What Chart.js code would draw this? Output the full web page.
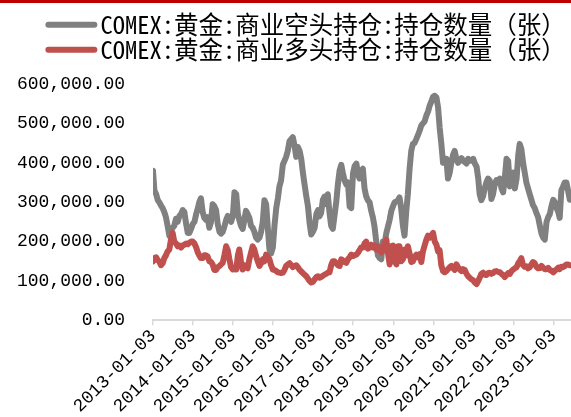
<!DOCTYPE html>
<html><head><meta charset="utf-8">
<script src="https://cdn.jsdelivr.net/npm/chart.js@4/dist/chart.umd.min.js"></script>
<style>
html,body{margin:0;padding:0;background:#fff;}
#wrap{position:relative;width:571px;height:417px;overflow:hidden;}
#topbar{position:absolute;left:0;top:0;width:571px;height:3px;background:#c00000;}
canvas{display:block;}
</style></head><body>
<div id="wrap"><canvas id="c" width="571" height="417"></canvas><div id="topbar"></div></div>
<script>
// semi-monthly observation dates
const dates = [
"2013-01-03","2013-01-16","2013-02-01","2013-02-16","2013-03-01","2013-03-16","2013-04-01","2013-04-16","2013-05-01","2013-05-16","2013-06-01","2013-06-16","2013-07-01","2013-07-16","2013-08-01","2013-08-16","2013-09-01","2013-09-16","2013-10-01","2013-10-16","2013-11-01","2013-11-16","2013-12-01","2013-12-16",
"2014-01-01","2014-01-16","2014-02-01","2014-02-16","2014-03-01","2014-03-16","2014-04-01","2014-04-16","2014-05-01","2014-05-16","2014-06-01","2014-06-16","2014-07-01","2014-07-16","2014-08-01","2014-08-16","2014-09-01","2014-09-16","2014-10-01","2014-10-16","2014-11-01","2014-11-16","2014-12-01","2014-12-16",
"2015-01-01","2015-01-16","2015-02-01","2015-02-16","2015-03-01","2015-03-16","2015-04-01","2015-04-16","2015-05-01","2015-05-16","2015-06-01","2015-06-16","2015-07-01","2015-07-16","2015-08-01","2015-08-16","2015-09-01","2015-09-16","2015-10-01","2015-10-16","2015-11-01","2015-11-16","2015-12-01","2015-12-16",
"2016-01-01","2016-01-16","2016-02-01","2016-02-16","2016-03-01","2016-03-16","2016-04-01","2016-04-16","2016-05-01","2016-05-16","2016-06-01","2016-06-16","2016-07-01","2016-07-16","2016-08-01","2016-08-16","2016-09-01","2016-09-16","2016-10-01","2016-10-16","2016-11-01","2016-11-16","2016-12-01","2016-12-16",
"2017-01-01","2017-01-16","2017-02-01","2017-02-16","2017-03-01","2017-03-16","2017-04-01","2017-04-16","2017-05-01","2017-05-16","2017-06-01","2017-06-16","2017-07-01","2017-07-16","2017-08-01","2017-08-16","2017-09-01","2017-09-16","2017-10-01","2017-10-16","2017-11-01","2017-11-16","2017-12-01","2017-12-16",
"2018-01-01","2018-01-16","2018-02-01","2018-02-16","2018-03-01","2018-03-16","2018-04-01","2018-04-16","2018-05-01","2018-05-16","2018-06-01","2018-06-16","2018-07-01","2018-07-16","2018-08-01","2018-08-16","2018-09-01","2018-09-16","2018-10-01","2018-10-16","2018-11-01","2018-11-16","2018-12-01","2018-12-16",
"2019-01-01","2019-01-16","2019-02-01","2019-02-16","2019-03-01","2019-03-16","2019-04-01","2019-04-16","2019-05-01","2019-05-16","2019-06-01","2019-06-16","2019-07-01","2019-07-16","2019-08-01","2019-08-16","2019-09-01","2019-09-16","2019-10-01","2019-10-16","2019-11-01","2019-11-16","2019-12-01","2019-12-16",
"2020-01-01","2020-01-16","2020-02-01","2020-02-16","2020-03-01","2020-03-16","2020-04-01","2020-04-16","2020-05-01","2020-05-16","2020-06-01","2020-06-16","2020-07-01","2020-07-16","2020-08-01","2020-08-16","2020-09-01","2020-09-16","2020-10-01","2020-10-16","2020-11-01","2020-11-16","2020-12-01","2020-12-16",
"2021-01-01","2021-01-16","2021-02-01","2021-02-16","2021-03-01","2021-03-16","2021-04-01","2021-04-16","2021-05-01","2021-05-16","2021-06-01","2021-06-16","2021-07-01","2021-07-16","2021-08-01","2021-08-16","2021-09-01","2021-09-16","2021-10-01","2021-10-16","2021-11-01","2021-11-16","2021-12-01","2021-12-16",
"2022-01-01","2022-01-16","2022-02-01","2022-02-16","2022-03-01","2022-03-16","2022-04-01","2022-04-16","2022-05-01","2022-05-16","2022-06-01","2022-06-16","2022-07-01","2022-07-16","2022-08-01","2022-08-16","2022-09-01","2022-09-16","2022-10-01","2022-10-16","2022-11-01","2022-11-16","2022-12-01","2022-12-16",
"2023-01-01","2023-01-16","2023-02-01","2023-02-16","2023-03-01","2023-03-16","2023-04-01","2023-04-16","2023-05-01","2023-05-16","2023-06-01"
];
// COMEX:黄金:商业空头持仓:持仓数量（张） (gray)
const shortPos = [
380000,330000,320000,305000,300000,292000,285000,275000,262000,240000,215000,228000,235000,240000,258000,250000,265000,270000,280000,275000,245000,222000,222000,232000,
245000,250000,270000,285000,300000,310000,275000,260000,255000,262000,235000,250000,295000,290000,280000,245000,225000,220000,225000,238000,255000,265000,262000,250000,
264000,325000,320000,270000,255000,240000,232000,255000,278000,270000,260000,240000,235000,225000,210000,205000,210000,225000,250000,305000,295000,235000,180000,170000,
185000,240000,285000,310000,340000,355000,395000,405000,415000,430000,455000,460000,465000,445000,415000,440000,430000,410000,375000,345000,315000,290000,247000,218000,
225000,235000,270000,280000,264000,272000,306000,314000,295000,320000,272000,240000,232000,265000,300000,345000,381000,395000,373000,355000,345000,350000,289000,285000,
373000,392000,398000,370000,360000,380000,385000,335000,315000,305000,300000,278000,262000,238000,200000,165000,158000,155000,200000,195000,222000,238000,255000,278000,
290000,300000,302000,305000,312000,285000,240000,215000,275000,320000,385000,430000,448000,450000,460000,470000,482000,495000,500000,505000,520000,530000,545000,555000,
568000,570000,566000,540000,490000,450000,400000,410000,410000,360000,375000,400000,420000,430000,410000,400000,405000,412000,406000,402000,398000,410000,405000,405000,
410000,398000,390000,360000,320000,305000,315000,335000,350000,360000,355000,308000,320000,345000,356000,350000,360000,335000,325000,360000,410000,405000,340000,370000,
375000,335000,360000,420000,448000,435000,400000,375000,350000,335000,320000,306000,292000,285000,272000,262000,240000,220000,210000,205000,250000,262000,270000,290000,
306000,300000,285000,275000,260000,330000,340000,350000,350000,330000,306000
];
// COMEX:黄金:商业多头持仓:持仓数量（张） (red)
const longPos = [
150000,158000,160000,152000,150000,140000,145000,158000,165000,175000,180000,205000,222000,200000,195000,188000,190000,185000,190000,192000,195000,193000,197000,200000,
200000,195000,185000,172000,165000,158000,158000,165000,165000,162000,150000,148000,142000,128000,128000,135000,138000,142000,146000,165000,188000,178000,155000,135000,
129000,130000,129000,165000,180000,150000,129000,140000,134000,132000,155000,172000,188000,180000,163000,150000,138000,145000,155000,150000,167000,160000,155000,140000,
129000,128000,125000,122000,121000,120000,121000,128000,138000,142000,145000,140000,135000,138000,140000,135000,128000,124000,120000,116000,112000,106000,100000,96000,
98000,104000,110000,112000,108000,110000,113000,116000,118000,121000,122000,140000,150000,150000,145000,140000,138000,155000,152000,148000,146000,155000,160000,167000,
163000,165000,167000,172000,178000,185000,185000,195000,200000,182000,185000,192000,185000,190000,180000,188000,180000,172000,180000,195000,205000,170000,142000,188000,
190000,150000,142000,188000,188000,150000,155000,180000,165000,188000,170000,148000,150000,160000,167000,160000,168000,148000,175000,190000,205000,215000,210000,215000,
222000,200000,192000,175000,178000,140000,125000,122000,125000,130000,135000,138000,133000,128000,142000,135000,129000,125000,130000,128000,118000,112000,108000,104000,
102000,96000,92000,100000,108000,118000,121000,116000,115000,120000,121000,118000,120000,124000,125000,123000,122000,118000,115000,110000,115000,120000,118000,125000,
129000,132000,135000,145000,150000,158000,140000,136000,137000,132000,135000,142000,148000,145000,136000,132000,133000,138000,134000,130000,130000,133000,128000,126000,
122000,126000,130000,134000,130000,136000,135000,138000,142000,142000,140000
];
const seriesNames = ["COMEX:黄金:商业空头持仓:持仓数量（张）","COMEX:黄金:商业多头持仓:持仓数量（张）"];
const tickLabels = ["2013-01-03","2014-01-03","2015-01-03","2016-01-03","2017-01-03","2018-01-03","2019-01-03","2020-01-03","2021-01-03","2022-01-03","2023-01-03"];
const yTicks = [0,100000,200000,300000,400000,500000,600000];
const xEnd = "2023-06-12";

const day = s => Date.UTC(+s.slice(0,4), +s.slice(5,7)-1, +s.slice(8,10)) / 864e5;
const fmt = v => v.toLocaleString('en-US',{minimumFractionDigits:2, maximumFractionDigits:2});
const mono = '"Liberation Mono", monospace';
const legFont = '"Noto Sans Mono CJK SC","Liberation Mono","Noto Sans CJK SC",monospace';
const LEG_SIZE = 24.5, SWATCH = 52;

const GRAY = '#808080', RED = '#c0504d';

const legendTweak = {
  id: 'legendTweak',
  beforeLayout(chart) {
    const lg = chart.legend;
    if (lg && !lg._gapPatched) {
      const f = lg.fit;
      lg.fit = function() { f.call(this); this.height += 12; };
      lg._gapPatched = true;
    }
  },
  afterLayout(chart) {
    const lg = chart.legend;
    if (lg) { lg.left += 7; lg.right += 7; }
  },
  afterDraw(chart) {
    const lg = chart.legend;
    if (!lg || !lg.legendHitBoxes) return;
    const ctx = chart.ctx;
    lg.legendHitBoxes.forEach((hb, i) => {
      const item = lg.legendItems[i];
      const textX = hb.left + SWATCH + LEG_SIZE / 2;
      const y = hb.top + hb.height / 2;
      ctx.save();
      ctx.strokeStyle = item.strokeStyle;
      ctx.lineWidth = 6; ctx.lineCap = 'round';
      ctx.beginPath(); ctx.moveTo(textX - 52, y); ctx.lineTo(textX - 6, y); ctx.stroke();
      ctx.restore();
    });
  }
};

new Chart(document.getElementById('c'), {
  type: 'line',
  data: {
    datasets: [
      {label: seriesNames[0], data: dates.map((d,i)=>({x: day(d), y: shortPos[i]})),
       borderColor: GRAY, backgroundColor: GRAY, order: 1},
      {label: seriesNames[1], data: dates.map((d,i)=>({x: day(d), y: longPos[i]})),
       borderColor: RED, backgroundColor: RED, order: 0}
    ]
  },
  plugins: [legendTweak],
  options: {
    responsive: false, animation: false, devicePixelRatio: 1,
    elements: {
      point: {radius: 0},
      line: {borderWidth: 6, tension: 0, borderJoinStyle: 'round', borderCapStyle: 'round'}
    },
    layout: {padding: {top: 12, left: 17, right: 0, bottom: 0}},
    plugins: {
      tooltip: {enabled: false},
      legend: {
        position: 'top', align: 'center',
        labels: {
          boxWidth: SWATCH, boxHeight: 6,
          color: '#000', padding: 0.5,
          font: {size: LEG_SIZE, family: legFont},
          generateLabels: (chart) => Chart.defaults.plugins.legend.labels.generateLabels(chart)
            .map(l => Object.assign(l, {lineWidth: 0, fillStyle: 'rgba(0,0,0,0)'}))
            .sort((a,b) => a.datasetIndex - b.datasetIndex)
        }
      }
    },
    scales: {
      x: {
        type: 'linear', min: day(tickLabels[0]), max: day(xEnd),
        afterBuildTicks: s => { s.ticks = tickLabels.map(t => ({value: day(t)})); },
        ticks: {autoSkip: false, minRotation: 45, maxRotation: 45, color: '#000', padding: 0,
          font: {size: 18, family: mono},
          callback: (v, i) => tickLabels[i]},
        grid: {display: true, drawOnChartArea: false, drawTicks: true, tickLength: 5, color: '#d9d9d9', lineWidth: 1.5},
        border: {display: true, color: '#d9d9d9', width: 2}
      },
      y: {
        min: 0, max: 600000,
        afterBuildTicks: s => { s.ticks = yTicks.map(v => ({value: v})); },
        afterFit: s => { s.width = 136; },
        ticks: {color: '#000', padding: 28, font: {size: 18, family: mono}, callback: v => fmt(v)},
        grid: {display: false, drawTicks: false},
        border: {display: false}
      }
    }
  }
});
</script>
</body></html>
